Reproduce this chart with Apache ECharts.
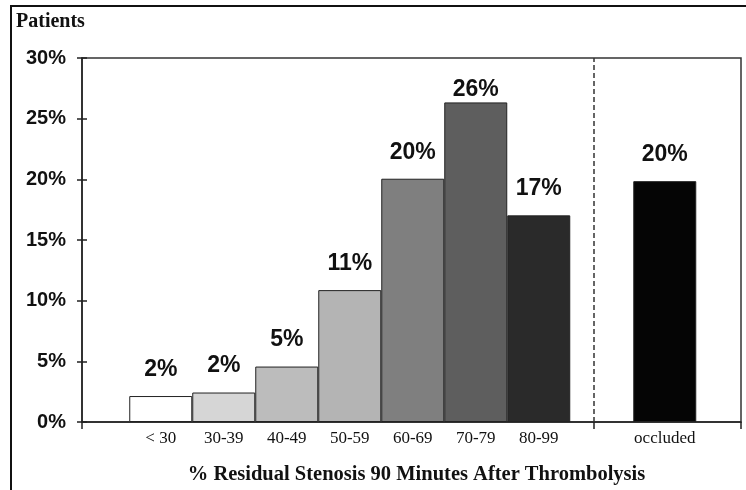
<!DOCTYPE html>
<html>
<head>
<meta charset="utf-8">
<script src="https://cdn.jsdelivr.net/npm/echarts@6/dist/echarts.min.js"></script>
<style>
  html, body { margin: 0; padding: 0; background: #fff; }
  #chart { width: 746px; height: 490px; }
</style>
</head>
<body>
<div id="chart"></div>
<script>
// ---- data ----
var categories = ['< 30', '30-39', '40-49', '50-59', '60-69', '70-79', '80-99', '', 'occluded'];
var values = [2.14, 2.43, 4.57, 10.87, 20.05, 26.34, 17.03, null, 19.85];
var valueLabels = ['2%', '2%', '5%', '11%', '20%', '26%', '17%', '', '20%'];
var yTicks = [0, 5, 10, 15, 20, 25, 30];

// ---- styles ----
var barColors = ['#ffffff', '#d6d6d6', '#bcbcbc', '#b4b4b4', '#7f7f7f', '#5e5e5e', '#2a2a2a', '#ffffff', '#050505'];
var labelDistances = [15, 15, 15, 15, 15, 1, 15, 15, 15];
var separatorAt = 6.88;
var xMin = -1.25, xMax = 9.21;

var chart = echarts.init(document.getElementById('chart'), null, { renderer: 'canvas' });

var seriesData = [];
values.forEach(function (v, i) {
  if (v === null) return;
  seriesData.push({
    value: [i, v],
    itemStyle: { color: barColors[i] },
    label: { distance: labelDistances[i] }
  });
});

var labelIdx = [];
categories.forEach(function (c, i) { if (c) labelIdx.push(i); });

var sansBold = { fontFamily: 'Liberation Sans, Arial, sans-serif', fontWeight: 'bold', color: '#111' };

var option = {
  backgroundColor: '#ffffff',
  animation: false,
  title: {
    text: 'Patients',
    left: 16, top: 12, padding: 0,
    textStyle: { fontFamily: 'Liberation Serif, Times New Roman, serif', fontWeight: 'bold', fontSize: 20, color: '#111' }
  },
  grid: {
    left: 82, right: 5, top: 58, bottom: 67,
    show: true, borderColor: '#333', borderWidth: 1.5, backgroundColor: 'transparent'
  },
  xAxis: {
    type: 'value',
    min: xMin, max: xMax,
    splitLine: { show: false },
    axisLine: { show: true, onZero: false, lineStyle: { color: '#222', width: 1.5 } },
    axisTick: { show: true, length: 7, customValues: [xMin, separatorAt, xMax], lineStyle: { color: '#222', width: 1.5 } },
    axisLabel: {
      customValues: labelIdx,
      formatter: function (v) { return categories[Math.round(v)] || ''; },
      margin: 8,
      fontFamily: 'Liberation Serif, Times New Roman, serif',
      fontSize: 17, color: '#111'
    },
    name: '% Residual Stenosis 90 Minutes After Thrombolysis',
    nameLocation: 'middle',
    nameGap: 42,
    nameTextStyle: {
      fontFamily: 'Liberation Serif, Times New Roman, serif',
      fontWeight: 'bold', fontSize: 20.5, color: '#111', padding: [0, 0, 0, 10]
    }
  },
  yAxis: [{
    type: 'value',
    min: 0, max: 30, interval: 5,
    splitLine: { show: false },
    axisLine: { show: true, onZero: false, lineStyle: { color: '#222', width: 1.5 } },
    axisTick: { show: true, length: 5, lineStyle: { color: '#222', width: 1.5 } },
    axisLabel: Object.assign({ margin: 16, fontSize: 20, formatter: function (v) { return yTicks.indexOf(v) >= 0 ? v + '%' : ''; } }, sansBold)
  }, {
    type: 'value',
    position: 'left',
    min: 0, max: 30, interval: 5,
    splitLine: { show: false },
    axisLine: { show: false, onZero: false },
    axisTick: { show: true, inside: true, length: 5, lineStyle: { color: '#222', width: 1.5 } },
    axisLabel: { show: false }
  }],
  series: [{
    type: 'bar',
    yAxisIndex: 0,
    barWidth: 63,
    data: seriesData,
    itemStyle: { borderColor: '#222', borderWidth: 1 },
    label: Object.assign({
      show: true, position: 'top', fontSize: 23,
      formatter: function (p) { return valueLabels[Math.round(p.value[0])]; }
    }, sansBold),
    markLine: {
      silent: true,
      symbol: 'none',
      label: { show: false },
      lineStyle: { type: [5, 3], color: '#333', width: 1.5 },
      data: [{ xAxis: separatorAt }]
    }
  }],
  graphic: [
    { type: 'line', shape: { x1: 11, y1: 6, x2: 11, y2: 490 }, style: { stroke: '#111', lineWidth: 2 } },
    { type: 'line', shape: { x1: 10, y1: 6, x2: 746, y2: 6 }, style: { stroke: '#111', lineWidth: 2 } }
  ]
};

chart.setOption(option);
</script>
</body>
</html>
